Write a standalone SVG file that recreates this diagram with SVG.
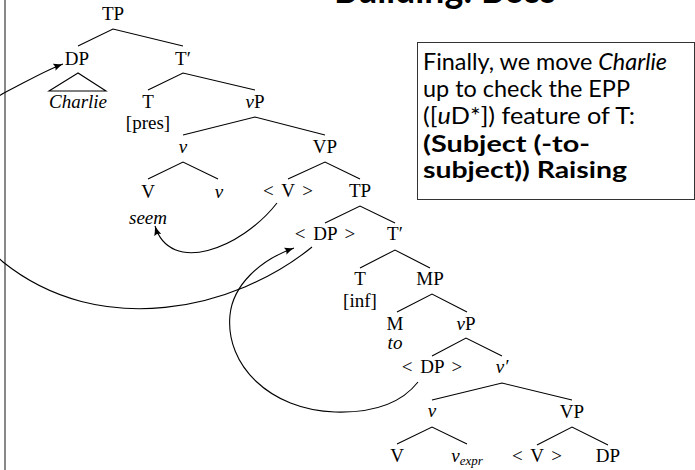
<svg xmlns="http://www.w3.org/2000/svg" width="695" height="470" viewBox="0 0 695 470">
  <defs>
    <style>
      .lbl { font-family: "Liberation Serif", "DejaVu Serif", serif; font-size: 19px; fill: #000; text-anchor: middle; }
      .tr { word-spacing: 3px; }
      .it { font-style: italic; }
      .sub { font-size: 13px; font-style: italic; }
      .edge { stroke: #000; stroke-width: 1.1; fill: none; }
      .move { stroke: #000; stroke-width: 1.1; fill: none; marker-end: url(#tip); }
      .note { font-family: "Lato", "Open Sans", sans-serif; font-size: 23px; fill: #000; }
      .bold { font-weight: bold; }
      .title { font-family: "Lato", "Open Sans", sans-serif; font-size: 38px; font-weight: bold; fill: #000; }
    </style>
    <marker id="tip" markerWidth="10" markerHeight="8" refX="9.5" refY="4" orient="auto" markerUnits="userSpaceOnUse">
      <path d="M0,0.3 Q5,2.8 9.5,4 Q5,5.2 0,7.7 Q2.5,4 0,0.3 Z" fill="#000"/>
    </marker>
  </defs>

  <rect width="695" height="470" fill="#fff"/>

  <!-- slide heading, almost entirely above the visible area -->
  <text class="title" x="334" y="3" textLength="222" lengthAdjust="spacingAndGlyphs">Building: Boss</text>

  <!-- left slide border -->
  <rect x="4" y="0" width="2" height="470" fill="#888"/>

  <!-- tree branches -->
  <g id="branches">
    <polyline class="edge" points="78,46 113,29 183,46"/>
    <polygon class="edge" points="78,73 49,91 106,91"/>
    <polyline class="edge" points="148,90 183,73 255,90"/>
    <polyline class="edge" points="183,135 255,117 325,135"/>
    <polyline class="edge" points="148,179 183,162 218,179"/>
    <polyline class="edge" points="288,179 325,162 360,179"/>
    <polyline class="edge" points="325,223 360,206 395,223"/>
    <polyline class="edge" points="360,268 395,250 430,268"/>
    <polyline class="edge" points="397,312 432,294 467,312"/>
    <polyline class="edge" points="432,356 466,338 502,356"/>
    <polyline class="edge" points="432,400 502,383 572,400"/>
    <polyline class="edge" points="397,444 432,427 467,444"/>
    <polyline class="edge" points="537,445 572,427 608,445"/>
  </g>

  <!-- tree nodes -->
  <g id="n-tp"><text class="lbl" x="113" y="20">TP</text></g>
  <g id="n-dp"><text class="lbl" x="77" y="65">DP</text></g>
  <g id="n-charlie"><text class="lbl it" x="78" y="108">Charlie</text></g>
  <g id="n-tbar"><text class="lbl" x="183" y="65">T′</text></g>
  <g id="n-t"><text class="lbl" x="148" y="108">T</text><text class="lbl" x="148" y="129">[pres]</text></g>
  <g id="n-vp"><text class="lbl" x="255" y="108"><tspan class="it">v</tspan>P</text></g>
  <g id="n-v"><text class="lbl it" x="183" y="153">v</text></g>
  <g id="n-VP"><text class="lbl" x="325" y="153">VP</text></g>
  <g id="n-V"><text class="lbl" x="148" y="198">V</text><text class="lbl it" x="148" y="224">seem</text></g>
  <g id="n-v2"><text class="lbl it" x="219" y="198">v</text></g>
  <g id="n-Vtrace"><text class="lbl tr" x="288" y="197">&lt; V &gt;</text></g>
  <g id="n-tp2"><text class="lbl" x="360" y="197">TP</text></g>
  <g id="n-dptrace"><text class="lbl tr" x="325" y="240">&lt; DP &gt;</text></g>
  <g id="n-tbar2"><text class="lbl" x="395" y="240">T′</text></g>
  <g id="n-t2"><text class="lbl" x="360" y="285">T</text><text class="lbl" x="360" y="307">[inf]</text></g>
  <g id="n-mp"><text class="lbl" x="430" y="285">MP</text></g>
  <g id="n-m"><text class="lbl" x="395" y="330">M</text><text class="lbl it" x="395" y="349">to</text></g>
  <g id="n-vp2"><text class="lbl" x="466" y="330"><tspan class="it">v</tspan>P</text></g>
  <g id="n-dptrace2"><text class="lbl tr" x="432" y="373">&lt; DP &gt;</text></g>
  <g id="n-vbar"><text class="lbl it" x="502" y="373">v′</text></g>
  <g id="n-v3"><text class="lbl it" x="432" y="417">v</text></g>
  <g id="n-VP2"><text class="lbl" x="572" y="418">VP</text></g>
  <g id="n-V2"><text class="lbl" x="397" y="462">V</text></g>
  <g id="n-vexpr"><text class="lbl it" x="467" y="462">v<tspan class="sub" dy="3">expr</tspan></text></g>
  <g id="n-Vtrace2"><text class="lbl tr" x="537" y="462">&lt; V &gt;</text></g>
  <g id="n-dp3"><text class="lbl" x="608" y="462">DP</text></g>

  <!-- movement arrows -->
  <g id="connectors">
    <path class="move" d="M312,247 C235,310 100,340 3,262 C-40,227 -36,113 4,93 C24,83 44,71 63,64"/>
    <path class="move" d="M277,203 C240,250 170,275 155,226"/>
    <path class="move" d="M418,382 C400,405 370,413 335,412 C270,410 225,365 230,315 C233,285 260,260 294,248"/>
  </g>

  <!-- explanatory box -->
  <g id="note">
    <rect x="417.5" y="42.5" width="277" height="157" fill="#fff" stroke="#333" stroke-width="1"/>
    <text class="note" x="423" y="70" textLength="244" lengthAdjust="spacingAndGlyphs">Finally, we move <tspan font-style="italic">Charlie</tspan></text>
    <text class="note" x="423" y="97" textLength="207" lengthAdjust="spacingAndGlyphs">up to check the EPP</text>
    <text class="note" x="423" y="124" textLength="212" lengthAdjust="spacingAndGlyphs">([<tspan font-style="italic">u</tspan>D*]) feature of T:</text>
    <text class="note bold" x="423" y="152" textLength="167" lengthAdjust="spacingAndGlyphs">(Subject (-to-</text>
    <text class="note bold" x="423" y="178" textLength="204" lengthAdjust="spacingAndGlyphs">subject)) Raising</text>
  </g>
</svg>
